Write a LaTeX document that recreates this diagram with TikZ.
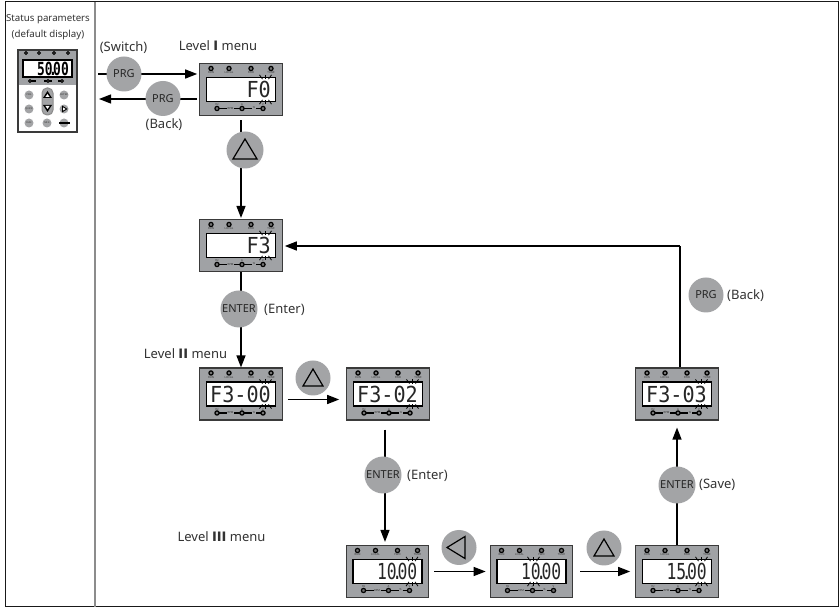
\documentclass[tikz,border=0pt]{standalone}
\usepackage{fontspec}
\usepackage{graphicx}
\setmainfont{Noto Sans}
\newfontfamily\segfont{DejaVu Sans Mono}
\newfontfamily\romfont{DejaVu Sans}
\usetikzlibrary{arrows.meta}
\definecolor{pgray}{HTML}{A0A2A5}
\definecolor{cgray}{HTML}{A3A4A6}
\definecolor{bdark}{HTML}{3A3A3A}
\newcommand{\rom}[1]{{\romfont\bfseries #1}}
\tikzset{
  x=1pt,y=-1pt,
  lbl/.style={inner sep=0pt,font=\fontsize{13}{15}\selectfont,text=black!80},
  flow/.style={draw=black,line width=1.3pt,-{Triangle[length=12pt,width=9pt]}},
  keyc/.style={circle,fill=cgray,draw=none,minimum size=#1,inner sep=0pt,font=\fontsize{11}{13}\selectfont,text=black!85},
  keyc/.default=37pt,
  panelbox/.style={draw=bdark,line width=1.1pt,fill=pgray,minimum width=82.5pt,minimum height=52pt,inner sep=0pt},
  dispbox/.style={draw=black,line width=1.2pt,fill=white,inner sep=0pt},
  led/.style={circle,draw=black,line width=1.2pt,fill=black!55,minimum size=4.2pt,inner sep=0pt},
  tiny/.style={inner sep=0pt,font=\fontsize{2.8}{3}\selectfont,text=black!80},
  seg/.style={inner sep=0pt,anchor=east,text=black!85},
  mini/.style={circle,fill=cgray,minimum size=9pt,inner sep=0pt,font=\fontsize{2.4}{3}\selectfont,text=black!80},
}
% \lcdpanel{name}{cx}{cy}{text}{blink x offset from panel centre}
\newcommand{\lcdpanel}[5]{%
  \node[panelbox] (#1) at (#2,#3) {};
  \begin{scope}[shift={(#2,#3)}]
    \node[dispbox,minimum width=69pt,minimum height=24pt] at (0,0) {};
    \foreach \xx/\ss in {-30/RUN,-12/LOCAL/REMOT,10/FWD/REV,30/TUNE/TC}{
      \node[led] at (\xx,-21) {};
      \node[tiny] at (\xx,-16.8) {\ss};
    }
    \draw[line width=1.4pt] (-24,19) -- (-14,19) (-7,19) -- (11,19) (15,19) -- (22,19);
    \foreach \xx in {-24,1,22}{\node[led] at (\xx,19) {};}
    \node[tiny] at (-10.5,19) {RPM};
    \node[tiny] at (13,18.5) {\%};
    \node[tiny] at (-24,15.2) {Hz};
    \node[tiny] at (1,15.2) {A};
    \node[tiny] at (22,15.2) {V};
    \node[seg] at (30,0) {#4};
    \foreach \aa in {-1,0,1}{
      \draw[line width=.8pt] (#5+\aa*3,-10.4) -- +(\aa*3,-4.2);
      \draw[line width=.8pt] (#5+\aa*3,10.4) -- +(\aa*3,4.2);
    }
  \end{scope}
}
\newcommand{\segtxt}[1]{{\segfont\fontsize{21}{21}\selectfont\scalebox{.96}[1.05]{#1}}}
\newcommand{\segnum}[4]{{\segfont\fontsize{21}{21}\selectfont\scalebox{.78}[1.05]{#1#2\makebox[1pt]{.}#3#4}}}
\begin{document}
\begin{tikzpicture}
\useasboundingbox (0,0) rectangle (839,609);
\fill[white] (0,0) rectangle (839,609);
% frame
\draw[line width=1pt,black!90] (5.5,2) -- (838,2) -- (838,607) -- (5.5,607) -- cycle;
\draw[line width=1.2pt,black!45] (95,2) -- (95,607);

% status column
\node[inner sep=0pt,font=\fontsize{9.7}{15.5}\selectfont,align=center,text=black!80] (stlabel) at (48,27) {Status parameters\\(default display)};
\node[fill=white,minimum width=59pt,minimum height=82pt,inner sep=0pt] (st) at (47.5,91) {};
\fill[pgray] (18.5,50.5) rectangle (77,85);
\draw[bdark,line width=1.1pt] (18,50) rectangle (77,132);
\node[dispbox,line width=1.4pt,minimum width=49pt,minimum height=17pt] (stdisp) at (47.5,68.5) {};
\node[inner sep=0pt,anchor=east] (stval) at (69,68.5) {{\segfont\fontsize{19}{19}\selectfont\bfseries\scalebox{.68}[.95]{50\makebox[1pt]{.}00}}};
\foreach \xx in {26,39,54,68}{\node[led,minimum size=3pt,line width=1pt] at (\xx,53) {};}
\draw[line width=1.1pt] (30,81) -- (36,81) (44,81) -- (52,81) (58,81) -- (63,81);
\foreach \xx in {30,48,62}{\node[led,minimum size=3pt,line width=1pt] at (\xx,81) {};}
\node[mini] (bprg) at (29,95) {PRG};
\node[mini] (bent) at (64,95) {ENTER};
\node[mini] (bqk) at (29,109) {QUICK};
\node[mini] (brun) at (29,123) {RUN};
\node[mini] (bmf) at (47,123) {MF.K};
\node[mini] (bsh) at (64,109) {};
\node[mini] (bst) at (64,123) {};
\fill[black] (59,122) rectangle (70,124);
\fill[black] (62,105.5) -- (67.5,109) -- (62,112.5) -- cycle;
\fill[white] (63.2,107.5) -- (65.6,109) -- (63.2,110.5) -- cycle;
\draw[fill=cgray,draw=black!45,line width=1pt,rounded corners=5pt] (42,88) rectangle (53,115);
\fill[black] (47.5,91) -- (52,98) -- (43,98) -- cycle;
\fill[black] (47.5,112) -- (52,105) -- (43,105) -- cycle;
\fill[white] (47.5,94) -- (49.6,97) -- (45.4,97) -- cycle;
\fill[white] (47.5,109) -- (49.6,106) -- (45.4,106) -- cycle;

% panels
\lcdpanel{pa}{241}{89.5}{\segtxt{F0}}{24.5}
\lcdpanel{pb}{241}{245.5}{\segtxt{F3}}{24.5}
\lcdpanel{pc}{241}{394}{\segtxt{F3-00}}{24.5}
\lcdpanel{pd}{388}{394}{\segtxt{F3-02}}{24.5}
\lcdpanel{pe}{387.5}{571.5}{\segnum 1000}{24.5}
\lcdpanel{pf}{531.5}{571.5}{\segnum 1000}{2}
\lcdpanel{pg}{677}{571.5}{\segnum 1500}{24.5}
\lcdpanel{ph}{677}{394}{\segtxt{F3-03}}{24.5}

% free ends
\coordinate (swA) at (98,74);
\coordinate (bkB) at (99,99);
\coordinate (ppC) at (680,246);

% connectors
\draw[flow] (swA) -- ([xshift=-2pt]pa.west |- swA);
\draw[flow] ([xshift=-2pt]pa.west |- bkB) -- (bkB);
\draw[flow] ([yshift=-4pt]pa.south) -- ([yshift=1pt]pb.north);
\draw[flow] (pb.south) -- (pc.north);
\draw[flow] ([xshift=5pt]pc.east |- 0,399.5) -- ([xshift=-7pt]pd.west |- 0,399.5);
\draw[flow] ([xshift=-3pt,yshift=-9pt]pd.south) -- ([xshift=-2.5pt,yshift=3pt]pe.north);
\draw[flow] ([xshift=5pt]pe.east) -- ([xshift=-4pt]pf.west);
\draw[flow] ([xshift=7pt]pf.east) -- ([xshift=-5pt]pg.west);
\draw[flow] (pg.north) -- ([yshift=-7pt]ph.south);
\draw[line width=1.3pt] ([xshift=3pt]ph.north) -- (ppC);
\draw[flow] (ppC) -- ([xshift=2pt]pb.east |- ppC);

% keys
\node[keyc=35pt] (kprg1) at (124,74) {PRG};
\node[lbl] (tsw) at (123.5,48) {(Switch)};
\node[keyc=35pt] (kprg2) at (163,98.5) {PRG};
\node[lbl] (tbk) at (164,125) {(Back)};
\node[lbl] (tl1) at (218,46) {Level \rom{I} menu};
\node[keyc] (kup1) at (245,150) {};
\node[keyc] (ken1) at (239,309) {ENTER};
\node[lbl,anchor=west] (ten1) at (264,310) {(Enter)};
\node[lbl] (tl2) at (185.5,354) {Level \rom{II} menu};
\node[keyc=35pt] (kup2) at (313,378) {};
\node[keyc] (ken2) at (383,475) {ENTER};
\node[lbl,anchor=west] (ten2) at (407,476) {(Enter)};
\node[lbl] (tl3) at (221.5,537) {Level \rom{III} menu};
\node[keyc=35pt] (kle) at (459,547.5) {};
\node[keyc=35pt] (kup3) at (604,548) {};
\node[keyc] (ken3) at (677,485) {ENTER};
\node[lbl,anchor=west] (tsv) at (699,485) {(Save)};
\node[keyc=35pt] (kprg3) at (706,295) {PRG};
\node[lbl,anchor=west] (tbk2) at (727,296) {(Back)};

% triangles on keys
\draw[line width=1.2pt,black] ([shift={(0,-11)}]kup1.center) -- ([shift={(12,9)}]kup1.center) -- ([shift={(-12,9)}]kup1.center) -- cycle;
\foreach \k in {kup2,kup3}{
  \draw[line width=1.2pt,black] ([shift={(0,-9)}]\k.center) -- ([shift={(10,8)}]\k.center) -- ([shift={(-10,8)}]\k.center) -- cycle;
}
\draw[line width=1.2pt,black] ([shift={(-12,0)}]kle.center) -- ([shift={(6,-11)}]kle.center) -- ([shift={(6,11)}]kle.center) -- cycle;
\end{tikzpicture}
\end{document}
